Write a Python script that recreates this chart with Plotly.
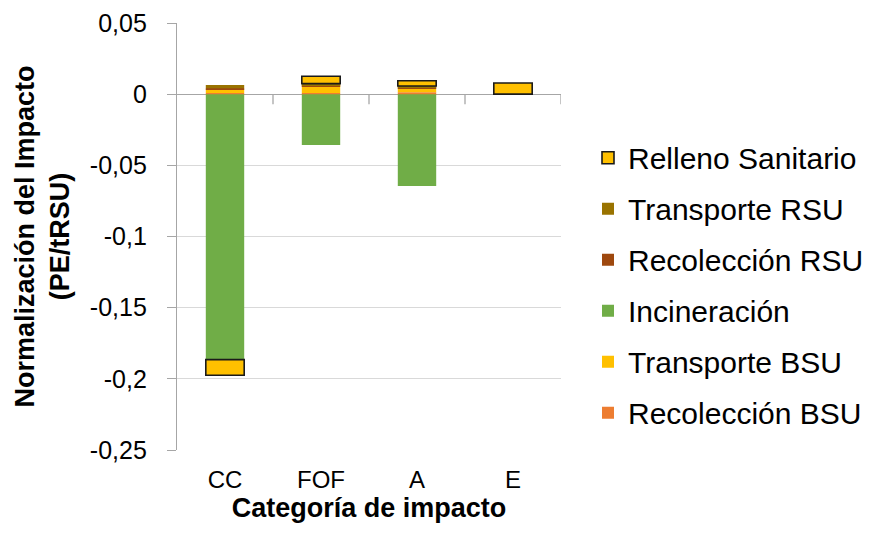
import plotly.graph_objects as go

categories = ["CC", "FOF", "A", "E"]

recoleccion_bsu = [0.0009, 0.0008, 0.0013, 0.0]
transporte_bsu = [0.0025, 0.0049, 0.0030, 0.0]
incineracion = [-0.1865, -0.0358, -0.0645, 0.0]
recoleccion_rsu = [0.0008, 0.0005, 0.0006, 0.0]
transporte_rsu = [0.0022, 0.0012, 0.0008, 0.0]
relleno_sanitario = [-0.0110, 0.0052, 0.0037, 0.0078]

y_tickvals = [0.05, 0.0, -0.05, -0.1, -0.15, -0.2, -0.25]
y_ticktext = ["0,05", "0", "-0,05", "-0,1", "-0,15", "-0,2", "-0,25"]

series = [
    ("Recolección BSU", recoleccion_bsu, "#ED7D31", 0, "#ED7D31"),
    ("Transporte BSU", transporte_bsu, "#FFC000", 0, "#FFC000"),
    ("Incineración", incineracion, "#70AD47", 0, "#70AD47"),
    ("Recolección RSU", recoleccion_rsu, "#9E480E", 0, "#9E480E"),
    ("Transporte RSU", transporte_rsu, "#997300", 0, "#997300"),
    ("Relleno Sanitario", relleno_sanitario, "#FFC000", 1.6, "#1a1a1a"),
]

fig = go.Figure()
for i, (name, vals, color, lw, lc) in enumerate(series):
    fig.add_trace(go.Bar(
        x=categories, y=vals, name=name, legendgroup=f"g{i}", legendrank=100 - i,
        marker=dict(color=color, line=dict(width=lw, color=lc)),
    ))

font_family = "Liberation Sans, Arial, sans-serif"

shapes = []
for b in [0.5, 1.5, 2.5, 3.5]:
    shapes.append(dict(type="line", xref="x", yref="y", ysizemode="pixel", yanchor=0,
                       x0=b, x1=b, y0=0, y1=-10,
                       line=dict(color="#A6A6A6", width=1.3)))

# page body adds an 8px offset; margins compensate
fig.update_layout(
    width=880, height=552,
    barmode="relative",
    bargap=0.6,
    plot_bgcolor="white", paper_bgcolor="white",
    margin=dict(l=169, r=327, t=15, b=110, autoexpand=False),
    font=dict(family=font_family, color="black"),
    showlegend=True,
    legend=dict(
        traceorder="grouped",
        x=580 / 880, xref="container", xanchor="left",
        y=0.386, yanchor="middle",
        font=dict(size=30, family=font_family),
        tracegroupgap=9,
        bgcolor="rgba(0,0,0,0)",
    ),
    shapes=shapes,
    xaxis=dict(
        categoryorder="array", categoryarray=categories,
        range=[-0.5, 3.5], automargin=False,
        showline=False, showgrid=False, ticks="", zeroline=False,
        tickfont=dict(size=24),
        ticklabelstandoff=13,
        title=dict(text="<b>Categoría de impacto</b>", font=dict(size=27), standoff=0),
    ),
    yaxis=dict(
        range=[-0.25, 0.05], automargin=False,
        tickvals=y_tickvals, ticktext=y_ticktext,
        showgrid=True, gridcolor="#D9D9D9", gridwidth=1,
        showline=True, linecolor="#A6A6A6", linewidth=1.3,
        ticks="outside", ticklen=9, tickcolor="#A6A6A6",
        ticklabelstandoff=15,
        zeroline=True, zerolinecolor="#A6A6A6", zerolinewidth=1.3,
        tickfont=dict(size=25),
        title=dict(text="<b>Normalización del Impacto<br>(PE/tRSU)</b>", font=dict(size=27), standoff=12),
    ),
)

fig.write_html("out.html")
